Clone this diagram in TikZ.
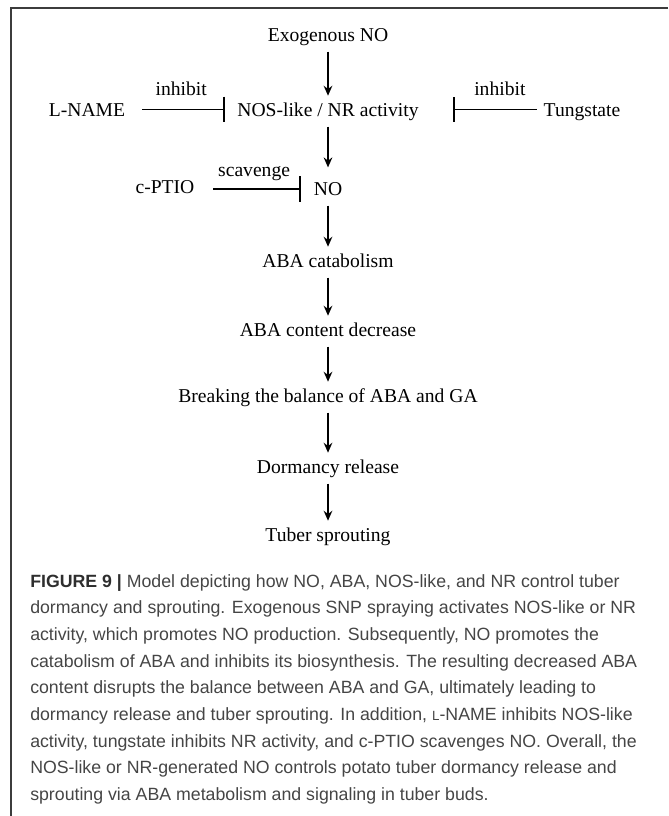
\documentclass[tikz,border=0pt]{standalone}
\usepackage{fontspec}
\setmainfont{Liberation Serif}
\newfontfamily\capfont{Liberation Sans}
\usetikzlibrary{arrows.meta}
\definecolor{captext}{HTML}{454545}
\definecolor{capbold}{HTML}{2E2E2E}
\definecolor{framegray}{HTML}{3C3C3C}

\begin{document}
\begin{tikzpicture}[x=0.75pt, y=-0.75pt,
    lbl/.style={font=\fontsize{14.7}{17}\selectfont, inner sep=0pt, text height=10pt, text depth=3pt},
    act/.style={line width=1.2pt, -{Stealth[length=7.5pt, width=6.5pt, inset=2.5pt]}, shorten <=4.3pt, shorten >=5.5pt},
    inh/.style={line width=1.1pt, -{Bar[width=19pt, line width=1.1pt]}},
    frame/.style={framegray, line width=1.1pt}]
  \useasboundingbox (0,0) rectangle (668,816);

  % marco
  \draw[frame] (668,8) -- (11,8) -- (11,816);

  % cadena principal
  \node[lbl] (exo) at (328,37) {Exogenous NO};
  \node[lbl] (nos) at (328,112) {NOS-like / NR activity};
  \node[lbl] (lname) at (87,112) {L-NAME};
  \node[lbl] (tung) at (582,112) {Tungstate};
  \node[lbl] (no) at (328,191) {NO};
  \node[lbl] (cptio) at (165,189) {c-PTIO};
  \node[lbl] (catab) at (328,263) {ABA catabolism};
  \node[lbl] (content) at (328,332) {ABA content decrease};
  \node[lbl] (balance) at (328,398) {Breaking the balance of ABA and GA};
  \node[lbl] (dorm) at (328,469) {Dormancy release};
  \node[lbl] (tuber) at (328,537) {Tuber sprouting};

  \draw[act] (exo) -- (nos);
  \draw[act, shorten >=11pt] (nos) -- (no);
  \draw[act] (no) -- (catab);
  \draw[act] (catab) -- (content);
  \draw[act] (content) -- (balance);
  \draw[act] (balance) -- (dorm);
  \draw[act] (dorm) -- (tuber);

  % inhibidores
  \draw[inh, shorten <=12.75pt, shorten >=9.3pt] ([yshift=2pt]lname.east) -- ([yshift=2pt]lname.east -| nos.west)
    node[lbl, midway, above=7pt] {inhibit};
  \draw[inh, shorten <=4.9pt, shorten >=25.8pt] ([yshift=2pt]tung.west) -- ([yshift=2pt]tung.west -| nos.east)
    node[lbl, pos=0.35, above=7pt] {inhibit};
  \draw[inh, shorten <=14pt, shorten >=9.7pt] (cptio.east) -- (cptio.east -| no.west)
    node[lbl, midway, above=5.5pt] {scavenge};

  % leyenda
  \node[font=\capfont\fontsize{13.3}{20}\selectfont, text=captext, align=left, inner sep=0pt, anchor=north west] (caption) at (30,574)
    {{\bfseries\color{capbold}FIGURE 9 |} Model depicting how NO, ABA, NOS-like, and NR control tuber\\
     dormancy and sprouting. Exogenous SNP spraying activates NOS-like or NR\\
     activity, which promotes NO production. Subsequently, NO promotes the\\
     catabolism of ABA and inhibits its biosynthesis. The resulting decreased ABA\\
     content disrupts the balance between ABA and GA, ultimately leading to\\
     dormancy release and tuber sprouting. In addition, {\fontsize{10}{10}\selectfont L}-NAME inhibits NOS-like\\
     activity, tungstate inhibits NR activity, and c-PTIO scavenges NO. Overall, the\\
     NOS-like or NR-generated NO controls potato tuber dormancy release and\\
     sprouting via ABA metabolism and signaling in tuber buds.};
\end{tikzpicture}
\end{document}
